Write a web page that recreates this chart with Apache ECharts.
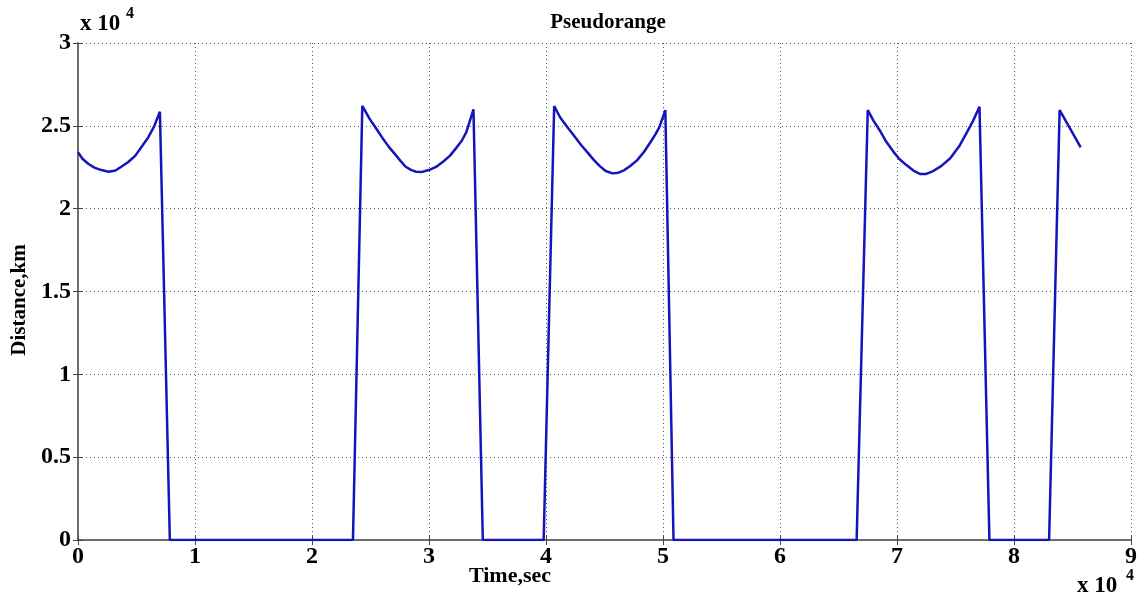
<!DOCTYPE html>
<html>
<head>
<meta charset="utf-8">
<script src="https://cdn.jsdelivr.net/npm/echarts@6/dist/echarts.min.js"></script>
<style>
html,body{margin:0;padding:0;background:#fff;}
#chart{width:1140px;height:600px;}
</style>
</head>
<body>
<div id="chart"></div>
<script>
// Time in seconds
var timeSec = [
  0, 400, 900, 1400, 2000, 2600, 3200, 3700, 4300, 4900, 5500, 6000, 6500, 7000, 7850,
  23500, 24300, 24900, 25500, 26050, 26600, 27200, 27600, 28000, 28500, 28900, 29400, 30000, 30600, 31200, 31800, 32300, 32800, 33200, 33800, 34600,
  39800, 40700, 41200, 41800, 42400, 43000, 43600, 44100, 44600, 45100, 45700, 46200, 46700, 47200, 47800, 48400, 48950, 49350, 49700, 50200, 50900,
  66550, 67500, 68000, 68600, 69100, 69700, 70200, 70800, 71400, 72000, 72500, 73100, 73800, 74550, 75300, 76000, 76500, 77050, 77900,
  83000, 83900, 84800, 85700
];
// Pseudorange distance in km
var distanceKm = [
  23400, 23000, 22700, 22480, 22330, 22230, 22300, 22530, 22820, 23200, 23800, 24300, 24950, 25850, 0,
  0, 26200, 25450, 24820, 24240, 23700, 23200, 22850, 22530, 22330, 22230, 22220, 22330, 22520, 22830, 23200, 23640, 24100, 24640, 26000, 0,
  0, 26200, 25520, 24940, 24400, 23840, 23350, 22930, 22570, 22270, 22130, 22170, 22330, 22580, 22930, 23450, 24040, 24480, 24940, 25950, 0,
  0, 25950, 25300, 24640, 24020, 23430, 23000, 22630, 22300, 22090, 22100, 22270, 22580, 23040, 23750, 24640, 25300, 26150, 0,
  0, 25950, 24830, 23700
];
var xTicks = [0, 1, 2, 3, 4, 5, 6, 7, 8, 9];
var yTicks = [0, 0.5, 1, 1.5, 2, 2.5, 3];

var pts = timeSec.map(function (t, i) { return [t, distanceKm[i]]; });

var serif = "'Liberation Serif', 'DejaVu Serif', serif";
var boxLine = { show: true, lineStyle: { color: '#666', width: 1.5 } };
var tickIn = { show: true, inside: true, length: 5, lineStyle: { color: '#444', width: 1 } };
var gridDot = { show: true, lineStyle: { type: [1, 3], color: '#555', width: 1 } };

var chart = echarts.init(document.getElementById('chart'));
chart.setOption({
  animation: false,
  backgroundColor: '#fff',
  title: {
    text: 'Pseudorange',
    left: 603, top: 7, textAlign: 'center',
    textStyle: { fontFamily: serif, fontWeight: 'bold', fontSize: 21, color: '#000' }
  },
  grid: { left: 78, right: 7, top: 43, bottom: 60 },
  xAxis: [{
    type: 'value', min: 0, max: 90000, interval: 10000,
    axisLine: boxLine, axisTick: tickIn, splitLine: gridDot,
    axisLabel: {
      margin: 5, fontFamily: serif, fontWeight: 'bold', fontSize: 24, color: '#000',
      formatter: function (v) { return String(xTicks[Math.round(v / 10000)]); }
    }
  }, {
    type: 'value', position: 'top', min: 0, max: 90000, interval: 10000,
    axisLine: boxLine, axisTick: tickIn, axisLabel: { show: false }, splitLine: { show: false }
  }],
  yAxis: [{
    type: 'value', min: 0, max: 30000, interval: 5000,
    axisLine: boxLine, axisTick: tickIn, splitLine: gridDot,
    axisLabel: {
      margin: 7, fontFamily: serif, fontWeight: 'bold', fontSize: 24, color: '#000',
      formatter: function (v) { return String(yTicks[Math.round(v / 5000)]); }
    }
  }, {
    type: 'value', position: 'right', min: 0, max: 30000, interval: 5000,
    axisLine: boxLine, axisTick: tickIn, axisLabel: { show: false }, splitLine: { show: false }
  }],
  graphic: [
    { type: 'text', left: 80, top: 13, style: { text: 'x 10', fontFamily: serif, fontWeight: 'bold', fontSize: 23, fill: '#000' } },
    { type: 'text', left: 126, top: 6, style: { text: '4', fontFamily: serif, fontWeight: 'bold', fontSize: 16, fill: '#000' } },
    { type: 'text', left: 1077, top: 575, style: { text: 'x 10', fontFamily: serif, fontWeight: 'bold', fontSize: 23, fill: '#000' } },
    { type: 'text', left: 1126, top: 568, style: { text: '4', fontFamily: serif, fontWeight: 'bold', fontSize: 16, fill: '#000' } },
    { type: 'text', x: 510, y: 576, style: { text: 'Time,sec', fontFamily: serif, fontWeight: 'bold', fontSize: 22, fill: '#000', textAlign: 'center', textVerticalAlign: 'middle' } },
    { type: 'text', x: 20, y: 300, rotation: Math.PI / 2, style: { text: 'Distance,km', fontFamily: serif, fontWeight: 'bold', fontSize: 21, fill: '#000', textAlign: 'center', textVerticalAlign: 'middle' } }
  ],
  series: [{
    type: 'line', data: pts, showSymbol: false, smooth: false,
    lineStyle: { color: '#1414bc', width: 2.5 },
    z: 3
  }]
});
</script>
</body>
</html>
